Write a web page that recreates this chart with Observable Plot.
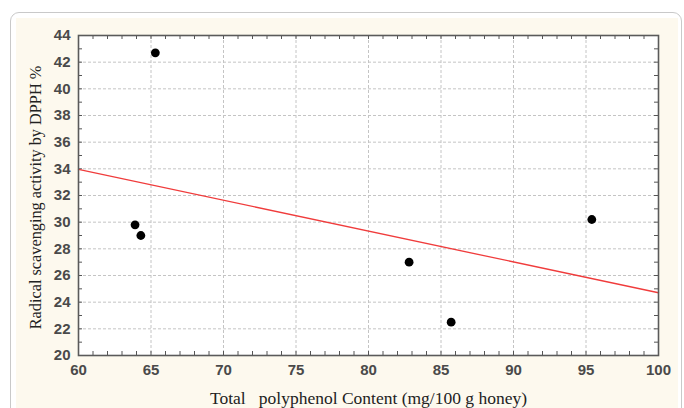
<!DOCTYPE html>
<html><head><meta charset="utf-8">
<script src="https://cdn.jsdelivr.net/npm/d3@7"></script>
<script src="https://cdn.jsdelivr.net/npm/@observablehq/plot@0.6"></script>
<style>
html,body{margin:0;padding:0;width:684px;height:408px;overflow:hidden;background:#fff;}
#box{position:absolute;left:10px;top:12px;width:670px;height:430px;border:1px solid #c9c9c9;border-radius:9px;background:#fff;}
#inner{position:absolute;left:5px;top:5px;right:3px;bottom:0;background:#fdf9ee;}
#chart{position:absolute;left:0;top:0;}
</style></head><body>
<div id="box"><div id="inner"></div></div>
<div id="chart"></div>
<script>
// Data
const polyphenol = [65.3, 63.9, 64.3, 82.8, 85.7, 95.4];
const dpph = [42.7, 29.8, 29.0, 27.0, 22.5, 30.2];
const xTicks = [60, 65, 70, 75, 80, 85, 90, 95, 100];
const yTicks = [20, 22, 24, 26, 28, 30, 32, 34, 36, 38, 40, 42, 44];
const xMinor = d3.range(60, 101, 1);
const yMinor = d3.range(20, 45, 1);
const xLabel = "Total   polyphenol Content (mg/100 g honey)";
const yLabel = "Radical scavenging activity by DPPH %";

const points = polyphenol.map((x, i) => ({x, y: dpph[i]}));
// least-squares fit extended over the x domain
const mx = d3.mean(polyphenol), my = d3.mean(dpph);
const slope = d3.sum(points, d => (d.x - mx) * (d.y - my)) / d3.sum(points, d => (d.x - mx) ** 2);
const intercept = my - slope * mx;
const xDomain = [60, 100];
const fit = xDomain.map(x => ({x, y: intercept + slope * x}));

const W = 684, H = 408, mL = 78, mR = 26, mT = 35, mB = 53;
const innerH = H - mT - mB, innerW = W - mL - mR;
const tk = 4;
const serif = "'Liberation Serif', 'Times New Roman', serif";

const chart = Plot.plot({
  width: W, height: H,
  marginLeft: mL, marginRight: mR, marginTop: mT, marginBottom: mB,
  style: {background: "transparent", fontFamily: "'Liberation Sans', Arial, sans-serif", fontSize: "15px", color: "#4a4a4a"},
  x: {domain: xDomain},
  y: {domain: [20, 44]},
  marks: [
    Plot.frame({fill: "white"}),
    Plot.gridX(xTicks.slice(1, -1), {stroke: "#c4c4c4", strokeOpacity: 1, strokeDasharray: "3,2"}),
    Plot.gridY(yTicks.slice(1, -1), {stroke: "#c4c4c4", strokeOpacity: 1, strokeDasharray: "3,2"}),
    Plot.ruleX(xMinor, {x: d => d, insetTop: innerH - tk, stroke: "#555"}),
    Plot.ruleX(xMinor, {x: d => d, insetBottom: innerH - tk, stroke: "#555"}),
    Plot.ruleY(yMinor, {y: d => d, insetRight: innerW - tk, stroke: "#555"}),
    Plot.ruleY(yMinor, {y: d => d, insetLeft: innerW - tk, stroke: "#555"}),
    Plot.line(fit, {x: "x", y: "y", stroke: "#f03c3c", strokeWidth: 1.3}),
    Plot.dot(points, {x: "x", y: "y", r: 4.4, fill: "black"}),
    Plot.frame({stroke: "#5a5a5a", strokeWidth: 1.6}),
    Plot.axisX(xTicks, {tickSize: 0, tickPadding: 9, label: null, fontWeight: "bold"}),
    Plot.axisY(yTicks, {tickSize: 0, tickPadding: 8, label: null, fontWeight: "bold"}),
    Plot.text([xLabel], {frameAnchor: "bottom", dy: 43, lineAnchor: "middle", textAnchor: "middle", fontFamily: serif, fontSize: 17.5, fill: "#222"}),
    Plot.text([yLabel], {frameAnchor: "left", dx: -43, dy: 2, rotate: -90, lineAnchor: "middle", textAnchor: "middle", fontFamily: serif, fontSize: 16.3, fill: "#222"})
  ]
});
document.getElementById("chart").append(chart);
</script>
</body></html>
